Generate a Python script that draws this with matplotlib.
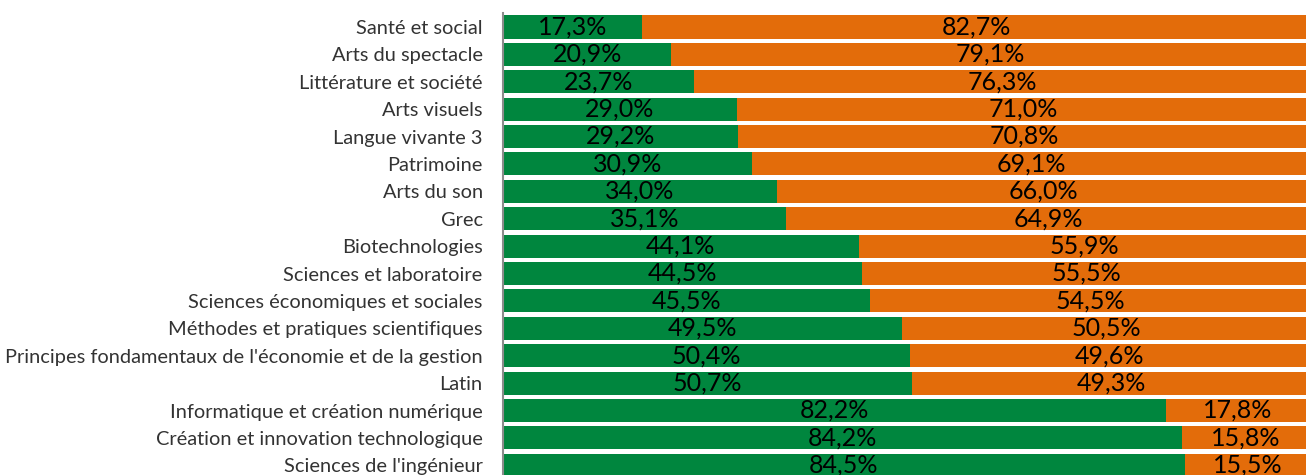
import matplotlib.pyplot as plt

categories = ["Santé et social", "Arts du spectacle", "Littérature et société",
              "Arts visuels", "Langue vivante 3", "Patrimoine", "Arts du son",
              "Grec", "Biotechnologies", "Sciences et laboratoire",
              "Sciences économiques et sociales",
              "Méthodes et pratiques scientifiques",
              "Principes fondamentaux de l'économie et de la gestion", "Latin",
              "Informatique et création numérique",
              "Création et innovation technologique", "Sciences de l'ingénieur"]
green_vals = [17.3, 20.9, 23.7, 29.0, 29.2, 30.9, 34.0, 35.1, 44.1, 44.5,
              45.5, 49.5, 50.4, 50.7, 82.2, 84.2, 84.5]
orange_vals = [82.7, 79.1, 76.3, 71.0, 70.8, 69.1, 66.0, 64.9, 55.9, 55.5,
               54.5, 50.5, 49.6, 49.3, 17.8, 15.8, 15.5]

GREEN = '#00863E'
ORANGE = '#E36C0A'

fig = plt.figure(figsize=(13.06, 4.75), dpi=100)
ax = fig.add_axes([0.385, -0.0084, 0.618, 0.9804])

y = list(range(len(categories)))
b1 = ax.barh(y, green_vals, height=0.84, color=GREEN)
b2 = ax.barh(y, orange_vals, left=green_vals, height=0.84, color=ORANGE)

for bars, vals in ((b1, green_vals), (b2, orange_vals)):
    labels = [('%.1f%%' % v).replace('.', ',') for v in vals]
    ax.bar_label(bars, labels=labels, label_type='center', fontsize=18,
                 family='Lato', color='black')

ax.set_ylim(len(categories) - 0.5, -0.5)
ax.set_xlim(0, 100)
ax.set_yticks(y)
ax.set_yticklabels(categories, family='Lato', fontsize=14.4, color='#333333')
ax.tick_params(axis='y', length=0, pad=14.5)
ax.set_xticks([])
for s in ('top', 'right', 'bottom'):
    ax.spines[s].set_visible(False)
ax.spines['left'].set_color('#8C8C8C')
ax.spines['left'].set_linewidth(1.5)

fig.savefig('out.png', dpi=100)
